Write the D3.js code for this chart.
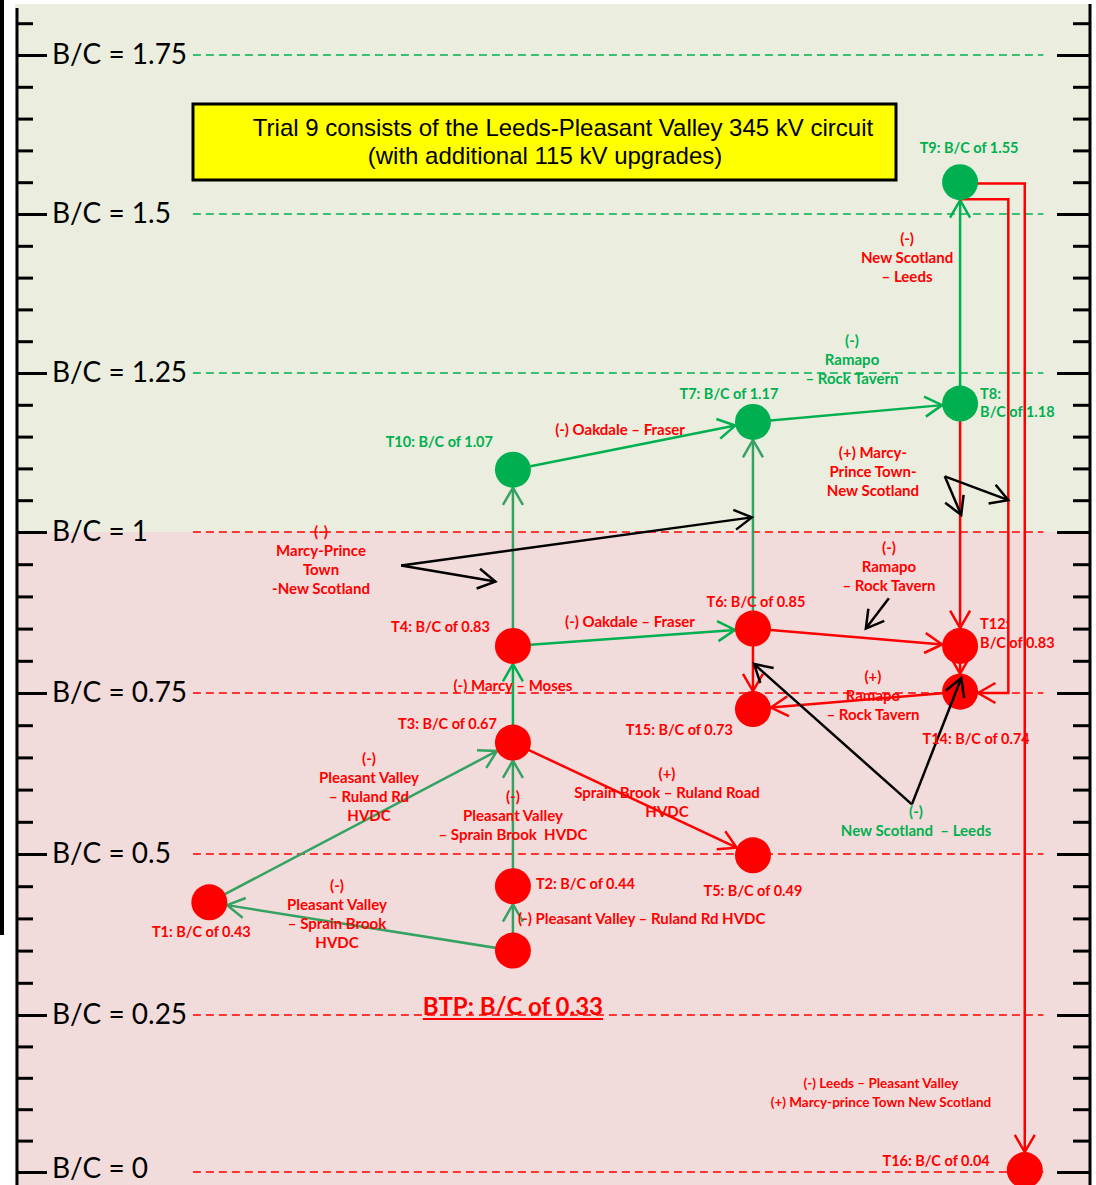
<!DOCTYPE html>
<html>
<head>
<meta charset="utf-8">
<title>Trial 9 B/C steps</title>
<script src="https://cdn.jsdelivr.net/npm/d3@7"></script>
<style>
  body { margin: 0; background: #fff; }
  .lbl { font-family: Lato, "Open Sans", sans-serif; font-weight: bold; font-size: 14.5px; white-space: pre; }
  .ax text { font-family: Lato, "Open Sans", sans-serif; font-size: 28px; fill: #000; }
  .ax line { stroke: #000; stroke-width: 3px; }
  .title { font-family: "Liberation Sans", Arial, sans-serif; font-size: 24px; fill: #000; }
</style>
</head>
<body>
<svg id="chart" width="1096" height="1185"></svg>
<script>
// trials: name, B/C written on the label, B/C level where the dot is drawn, column (percent of width)
var nodeNames = ["BTP", "T1", "T2", "T3", "T4", "T5", "T6", "T7", "T8", "T9", "T10", "T12", "T14", "T15", "T16"];
var nodeBC    = [0.33, 0.43, 0.44, 0.67, 0.83, 0.49, 0.85, 1.17, 1.18, 1.55, 1.07, 0.83, 0.74, 0.73, 0.04];
var nodeLevel = [0.35, 0.425, 0.45, 0.673, 0.823, 0.498, 0.85, 1.173, 1.202, 1.55, 1.098, 0.823, 0.752, 0.725, 0.003];
var nodeCol   = [46.8, 19.1, 46.8, 46.8, 46.8, 68.7, 68.7, 68.7, 87.6, 87.6, 46.8, 87.6, 87.6, 68.7, 93.5];

// straight steps between trials
var edgeFrom = ["BTP", "BTP", "T1", "T2", "T3", "T3", "T4", "T4", "T10", "T6", "T7", "T8", "T8", "T6", "T12", "T14", "T6"];
var edgeTo   = ["T1", "T2", "T3", "T3", "T4", "T5", "T10", "T6", "T7", "T7", "T8", "T9", "T12", "T12", "T14", "T15", "T15"];
var edgeKind = ["teal", "teal", "teal", "teal", "green", "red", "teal", "green", "green", "teal", "green", "green", "red", "red", "red", "red", "red"];

// steps routed round the right side: leave level, run column, arrive level
var elbowFrom  = ["T9", "T9"];
var elbowTo    = ["T14", "T16"];
var elbowLeave = [1.523, 1.548];
var elbowRun   = [92.0, 93.5];
var elbowReach = [0.75, 0.003];

// black pointers from a note to the lines it describes
var pointerFrom = [[36.6, 0.948], [86.2, 1.0875], [81.1, 0.897], [83.2, 0.577]];
var pointerTo   = [
  [[45.2, 0.923], [68.6, 1.023]],
  [[87.7, 1.027], [92.0, 1.05]],
  [[79.0, 0.85]],
  [[68.8, 0.795], [87.7, 0.773]]
];

// notes on the steps
var noteLines = [
  ["(-)", "Pleasant Valley", "– Sprain Brook", "HVDC"],
  ["(-) Pleasant Valley – Ruland Rd HVDC"],
  ["(-)", "Pleasant Valley", "– Ruland Rd", "HVDC"],
  ["(-)", "Pleasant Valley", "– Sprain Brook  HVDC"],
  ["(-) Marcy – Moses"],
  ["(+)", "Sprain Brook – Ruland Road", "HVDC"],
  ["(-)", "Marcy-Prince", "Town", "-New Scotland"],
  ["(-) Oakdale – Fraser"],
  ["(-) Oakdale – Fraser"],
  ["(-)", "Ramapo", "– Rock Tavern"],
  ["(-)", "New Scotland", "– Leeds"],
  ["(+) Marcy-", "Prince Town-", "New Scotland"],
  ["(-)", "Ramapo", "– Rock Tavern"],
  ["(+)", "Ramapo", "– Rock Tavern"],
  ["(-)", "New Scotland  – Leeds"],
  ["(-) Leeds – Pleasant Valley", "(+) Marcy-prince Town New Scotland"]
];
var noteCol   = [30.75, 47.26, 33.67, 46.8, 46.8, 60.86, 29.29, 57.48, 56.57, 77.74, 82.76, 79.65, 81.11, 79.65, 83.58, 80.38];
var noteLevel = [0.442, 0.392, 0.639, 0.581, 0.753, 0.617, 0.992, 0.852, 1.153, 1.292, 1.453, 1.116, 0.967, 0.767, 0.558, 0.133];
var noteGreen = [false, false, false, false, false, false, false, false, false, true, false, false, false, false, true, false];
var noteStart = [false, true, false, false, false, false, false, false, false, false, false, false, false, false, false, false];

var majorTicks = [0, 0.25, 0.5, 0.75, 1, 1.25, 1.5, 1.75];
var titleLines = ["Trial 9 consists of the Leeds-Pleasant Valley 345 kV circuit", "(with additional 115 kV upgrades)"];

// ---- layout
var RED = "#FF0000", GREEN = "#00B050", TEAL = "#34A262";
var R = 18;
var svg = d3.select("#chart");
var x = d3.scaleLinear().domain([0, 100]).range([0, 1096]);
var y = d3.scaleLinear().domain([0, 0.25, 1, 1.75]).range([1172, 1015, 532, 55]);

var nodes = {};
nodeNames.forEach(function(n, i) {
  nodes[n] = { name: n, bc: nodeBC[i], px: x(nodeCol[i]), py: y(nodeLevel[i]) };
});
function nodeColor(n) { return n.bc >= 1 ? GREEN : RED; }
function kindColor(k) { return k == "teal" ? TEAL : (k == "green" ? GREEN : RED); }

// background bands
svg.append("rect").attr("x", 15).attr("y", 4).attr("width", 1075).attr("height", y(1) - 4).attr("fill", "#EBEEDF");
svg.append("rect").attr("x", 15).attr("y", y(1)).attr("width", 1075).attr("height", 1185 - y(1)).attr("fill", "#F2DCDB");
svg.append("rect").attr("x", 0).attr("y", 0).attr("width", 4).attr("height", 935).attr("fill", "#000");

// dashed levels
svg.append("g").selectAll("line").data(majorTicks).enter().append("line")
  .attr("x1", x(17.6)).attr("x2", x(95.2))
  .attr("y1", function(d) { return y(d); }).attr("y2", function(d) { return y(d); })
  .attr("stroke", function(d) { return d > 1 ? GREEN : RED; })
  .attr("stroke-width", 1.6).attr("stroke-dasharray", "8,5");

// axes
var minorTicks = d3.range(0, 37).map(function(i) { return i / 20; })
  .filter(function(v) { return majorTicks.indexOf(v) < 0; });

var leftAx = svg.append("g").attr("class", "ax").attr("transform", "translate(17,0)");
leftAx.append("g").call(d3.axisRight(y).tickValues(majorTicks).tickSize(30).tickSizeOuter(0).tickPadding(5)
  .tickFormat(function(d) { return "B/C = " + d; }));
leftAx.append("g").call(d3.axisRight(y).tickValues(minorTicks).tickSize(16).tickSizeOuter(0).tickFormat(""));
leftAx.selectAll(".domain").remove();
leftAx.selectAll("text").attr("dy", function(d) { return d == 0 ? "0.2em" : "0.3em"; });
leftAx.append("line").attr("x1", 0).attr("x2", 0).attr("y1", 8).attr("y2", 1185);

var rightAx = svg.append("g").attr("class", "ax").attr("transform", "translate(1090,0)");
rightAx.append("g").call(d3.axisLeft(y).tickValues(majorTicks).tickSize(33).tickSizeOuter(0).tickFormat(""));
rightAx.append("g").call(d3.axisLeft(y).tickValues(minorTicks).tickSize(17).tickSizeOuter(0).tickFormat(""));
rightAx.selectAll(".domain").remove();
rightAx.append("line").attr("x1", 0).attr("x2", 0).attr("y1", 4).attr("y2", 1185);

// title box
svg.append("rect").attr("x", 193).attr("y", 104).attr("width", 703).attr("height", 76)
  .attr("fill", "#FFFF00").attr("stroke", "#000").attr("stroke-width", 3);
svg.append("text").attr("class", "title").attr("x", 563).attr("y", 128).attr("dy", "0.35em")
  .attr("text-anchor", "middle").text(titleLines[0]);
svg.append("text").attr("class", "title").attr("x", 545).attr("y", 156).attr("dy", "0.35em")
  .attr("text-anchor", "middle").text(titleLines[1]);

// arrow helpers
function head(g, tip, from, color) {
  var dx = tip[0] - from[0], dy = tip[1] - from[1];
  var a = Math.atan2(dy, dx), L = 20, s = Math.PI / 6;
  var p1 = [tip[0] - L * Math.cos(a - s), tip[1] - L * Math.sin(a - s)];
  var p2 = [tip[0] - L * Math.cos(a + s), tip[1] - L * Math.sin(a + s)];
  g.append("path").attr("d", d3.line()([p1, tip, p2]))
    .attr("fill", "none").attr("stroke", color).attr("stroke-width", 2.5);
}
function trimTo(p, q, r) {
  var dx = q[0] - p[0], dy = q[1] - p[1], d = Math.sqrt(dx * dx + dy * dy);
  return [q[0] - dx / d * r, q[1] - dy / d * r];
}

var edgeG = svg.append("g");
edgeFrom.forEach(function(f, i) {
  var s = nodes[f], t = nodes[edgeTo[i]], c = kindColor(edgeKind[i]);
  var p = [s.px, s.py], tip = trimTo(p, [t.px, t.py], R);
  edgeG.append("path").attr("d", d3.line()([p, tip]))
    .attr("fill", "none").attr("stroke", c).attr("stroke-width", 2.5);
  head(edgeG, tip, p, c);
});

elbowFrom.forEach(function(f, i) {
  var s = nodes[f], t = nodes[elbowTo[i]];
  var pts = [[s.px, y(elbowLeave[i])], [x(elbowRun[i]), y(elbowLeave[i])], [x(elbowRun[i]), y(elbowReach[i])]];
  var end = [t.px, y(elbowReach[i])];
  if (Math.abs(end[0] - pts[2][0]) > 1) pts.push(end); else pts[2] = [t.px, t.py];
  var n = pts.length, tip = trimTo(pts[n - 2], pts[n - 1], R);
  pts[n - 1] = tip;
  edgeG.append("path").attr("d", d3.line()(pts))
    .attr("fill", "none").attr("stroke", RED).attr("stroke-width", 2.5);
  head(edgeG, tip, pts[n - 2], RED);
});

// dots
svg.append("g").selectAll("circle").data(nodeNames).enter().append("circle")
  .attr("cx", function(d) { return nodes[d].px; })
  .attr("cy", function(d) { return nodes[d].py; })
  .attr("r", R)
  .attr("fill", function(d) { return nodeColor(nodes[d]); });

// black pointers
var ptrG = svg.append("g");
pointerFrom.forEach(function(o, i) {
  var p = [x(o[0]), y(o[1])];
  pointerTo[i].forEach(function(t) {
    var q = [x(t[0]), y(t[1])];
    ptrG.append("path").attr("d", d3.line()([p, q])).attr("fill", "none")
      .attr("stroke", "#000").attr("stroke-width", 2.5);
    head(ptrG, q, p, "#000");
  });
});

// dot labels
var labelPlace = {
  T1: [-8, 30, "middle"], T2: [23, -2, "start"], T3: [-16, -19, "end"], T4: [-23, -19, "end"],
  T5: [0, 36, "middle"], T6: [3, -27, "middle"], T7: [-24, -28, "middle"], T8: [20, -10, "start", 18],
  T9: [9, -34, "middle"], T10: [-20, -28, "end"], T12: [20, -22, "start", 19], T14: [16, 47, "middle"],
  T15: [-20, 21, "end"], T16: [-35, -9, "end"]
};
nodeNames.forEach(function(n) {
  var pl = labelPlace[n];
  if (!pl) return;
  var nd = nodes[n];
  var t = svg.append("text").attr("class", "lbl").attr("fill", nodeColor(nd))
    .attr("text-anchor", pl[2]).attr("x", nd.px + pl[0]).attr("y", nd.py + pl[1]).attr("dy", "0.35em");
  if (pl[3]) {
    t.append("tspan").attr("x", nd.px + pl[0]).text(n + ":");
    t.append("tspan").attr("x", nd.px + pl[0]).attr("dy", pl[3]).text("B/C of " + nd.bc.toFixed(2));
  } else {
    t.text(n + ": B/C of " + nd.bc.toFixed(2));
  }
});

// step notes
noteLines.forEach(function(lines, i) {
  var small = i == noteLines.length - 1;
  var t = svg.append("text").attr("class", "lbl")
    .attr("fill", noteGreen[i] ? GREEN : RED)
    .attr("text-anchor", noteStart[i] ? "start" : "middle")
    .attr("y", y(noteLevel[i])).attr("dy", "0.35em")
    .style("font-size", small ? "13.5px" : "15px");
  lines.forEach(function(l, k) {
    t.append("tspan").attr("x", x(noteCol[i])).attr("dy", k == 0 ? 0 : 19).text(l);
  });
});

// base case label
var btp = nodes["BTP"];
var bt = svg.append("text").attr("class", "lbl").attr("fill", RED).attr("text-anchor", "middle")
  .attr("x", btp.px).attr("y", y(0.2625)).attr("dy", "0.35em").style("font-size", "24px")
  .text("BTP: B/C of " + btp.bc.toFixed(2));
var bw = bt.node().getComputedTextLength();
svg.append("line").attr("x1", btp.px - bw / 2).attr("x2", btp.px + bw / 2)
  .attr("y1", y(0.2625) + 12).attr("y2", y(0.2625) + 12)
  .attr("stroke", RED).attr("stroke-width", 2);
</script>
</body>
</html>
